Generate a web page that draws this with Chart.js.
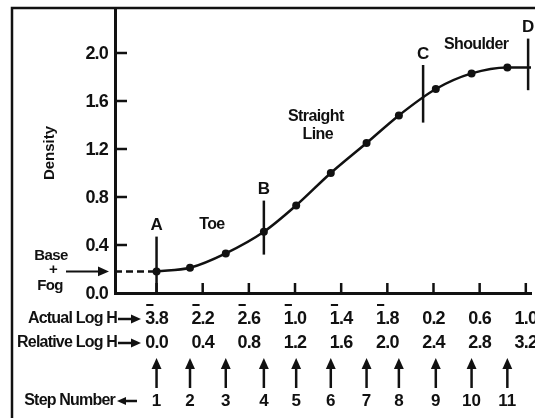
<!DOCTYPE html>
<html>
<head>
<meta charset="utf-8">
<script src="https://cdn.jsdelivr.net/npm/chart.js@4.4.0/dist/chart.umd.min.js"></script>
<style>
  html, body { margin: 0; padding: 0; background: #fff; }
  #wrap { width: 535px; height: 418px; }
</style>
</head>
<body>
<div id="wrap"><canvas id="hdcurve"></canvas></div>
<script>
// step wedge readings off the film
const stepNumbers = [1, 2, 3, 4, 5, 6, 7, 8, 9, 10, 11];
const stepLogH = [0.0, 0.29, 0.6, 0.93, 1.21, 1.51, 1.82, 2.1, 2.42, 2.73, 3.04];
const stepDensity = [0.18, 0.21, 0.33, 0.51, 0.73, 1.0, 1.25, 1.48, 1.7, 1.83, 1.88];
const shoulderEnd = { x: 3.26, y: 1.88 }; // curve carries on past step 11
const baseFog = 0.18;

// axis ticks
const relLogTicks = [0.0, 0.4, 0.8, 1.2, 1.6, 2.0, 2.4, 2.8, 3.2];
const actualLogTicks = ["3.8", "2.2", "2.6", "1.0", "1.4", "1.8", "0.2", "0.6", "1.0"];
const actualBarred = [true, true, true, true, true, true, false, false, false];
const densityTicks = [0.0, 0.4, 0.8, 1.2, 1.6, 2.0];

// A-D region markers and region names
const regionMarks = [
  { label: "A", x: 0.0, from: 0.0, to: 0.47 },
  { label: "B", x: 0.93, from: 0.32, to: 0.77 },
  { label: "C", x: 2.31, from: 1.42, to: 1.9 },
  { label: "D", x: 3.22, from: 1.69, to: 2.12 },
];
const regionNames = [
  { text: ["Toe"], x: 0.48, y: 0.57 },
  { text: ["Straight", "Line"], x: 1.38, y: 1.47 },
  { text: ["Shoulder"], x: 2.77, y: 2.07 },
];

const xMin = -0.36, xMax = 3.245;
const ink = "#111";
const font = (px) => "bold " + px + "px 'Liberation Sans', Arial, sans-serif";

function arrow(ctx, x1, y1, x2, y2, head) {
  const ang = Math.atan2(y2 - y1, x2 - x1);
  ctx.beginPath();
  ctx.moveTo(x1, y1);
  ctx.lineTo(x2 - Math.cos(ang) * head * 0.8, y2 - Math.sin(ang) * head * 0.8);
  ctx.stroke();
  ctx.beginPath();
  ctx.moveTo(x2, y2);
  ctx.lineTo(x2 - Math.cos(ang) * head - Math.sin(ang) * head * 0.45, y2 - Math.sin(ang) * head + Math.cos(ang) * head * 0.45);
  ctx.lineTo(x2 - Math.cos(ang) * head + Math.sin(ang) * head * 0.45, y2 - Math.sin(ang) * head - Math.cos(ang) * head * 0.45);
  ctx.closePath();
  ctx.fill();
}

const overlay = {
  id: "overlay",
  beforeDraw(chart) {
    const ctx = chart.ctx;
    ctx.save();
    ctx.fillStyle = "#fff";
    ctx.fillRect(0, 0, chart.width, chart.height);
    ctx.restore();
  },
  afterDraw(chart) {
    const { ctx, chartArea: a, scales: { x, y } } = chart;
    ctx.save();
    ctx.strokeStyle = ink;
    ctx.fillStyle = ink;
    ctx.lineCap = "butt";

    // outer frame (left + top)
    ctx.lineWidth = 2.5;
    ctx.beginPath();
    ctx.moveTo(12, chart.height);
    ctx.lineTo(12, a.top);
    ctx.lineTo(chart.width, a.top);
    ctx.stroke();

    // inward ticks
    ctx.lineWidth = 2.5;
    densityTicks.forEach((v) => {
      if (v === 0) return;
      const py = y.getPixelForValue(v);
      ctx.beginPath();
      ctx.moveTo(a.left, py);
      ctx.lineTo(a.left + 12, py);
      ctx.stroke();
    });
    relLogTicks.forEach((v) => {
      const px = x.getPixelForValue(v);
      ctx.beginPath();
      ctx.moveTo(px, a.bottom);
      ctx.lineTo(px, a.bottom - 10);
      ctx.stroke();
    });

    // y tick labels
    ctx.font = font(18);
    ctx.letterSpacing = "-0.8px";
    ctx.textAlign = "right";
    ctx.textBaseline = "middle";
    densityTicks.forEach((v) => {
      ctx.fillText(v.toFixed(1), a.left - 7, y.getPixelForValue(v) + 1);
    });

    // y title
    ctx.save();
    ctx.translate(50, 153);
    ctx.rotate(-Math.PI / 2);
    ctx.textAlign = "center";
    ctx.font = font(15);
    ctx.letterSpacing = "0px";
    ctx.fillText("Density", 0, 0);
    ctx.restore();

    // x label rows
    ctx.font = font(18);
    ctx.letterSpacing = "-0.8px";
    ctx.textAlign = "center";
    relLogTicks.forEach((v, i) => {
      const px = x.getPixelForValue(v);
      const lab = actualLogTicks[i];
      ctx.fillText(lab, px, 319);
      ctx.fillText(v.toFixed(1), px, 343);
      if (actualBarred[i]) {
        const w = ctx.measureText(lab).width;
        const w0 = ctx.measureText(lab[0]).width;
        const left = px - w / 2;
        ctx.lineWidth = 2;
        ctx.beginPath();
        ctx.moveTo(left + 1, 305);
        ctx.lineTo(left + w0 - 1, 305);
        ctx.stroke();
      }
    });

    // row names with arrows
    ctx.font = font(16);
    ctx.letterSpacing = "-0.8px";
    ctx.textAlign = "right";
    ctx.fillText("Actual Log H", 117, 319);
    ctx.fillText("Relative Log H", 117, 343);
    ctx.fillText("Step Number", 115, 401);
    ctx.lineWidth = 2.5;
    arrow(ctx, 118, 319, 141, 319, 10);
    arrow(ctx, 118, 343, 141, 343, 10);
    arrow(ctx, 137, 401, 117, 401, 9);

    // step arrows and numbers
    ctx.font = font(17);
    ctx.letterSpacing = "0px";
    ctx.textAlign = "center";
    stepLogH.forEach((v, i) => {
      const px = x.getPixelForValue(v);
      ctx.lineWidth = 2.5;
      arrow(ctx, px, 388, px, 358, 11);
      ctx.fillText(String(stepNumbers[i]), px, 401);
    });

    // base + fog
    const fy = y.getPixelForValue(baseFog);
    ctx.font = font(15);
    ctx.letterSpacing = "-0.6px";
    ctx.fillText("Base", 51, 256);
    ctx.fillText("+", 53, 270);
    ctx.fillText("Fog", 50, 286);
    ctx.lineWidth = 2;
    arrow(ctx, 66, fy, 109, fy, 11);

    // region markers
    ctx.font = font(17);
    ctx.letterSpacing = "0px";
    regionMarks.forEach((m) => {
      const px = x.getPixelForValue(m.x);
      const top = y.getPixelForValue(m.to);
      ctx.lineWidth = 2.5;
      ctx.beginPath();
      ctx.moveTo(px, y.getPixelForValue(m.from));
      ctx.lineTo(px, top);
      ctx.stroke();
      ctx.fillText(m.label, px, top - 11);
    });

    // region names
    ctx.font = font(16);
    ctx.letterSpacing = "-0.6px";
    regionNames.forEach((r) => {
      const px = x.getPixelForValue(r.x);
      const py = y.getPixelForValue(r.y);
      r.text.forEach((t, k) => ctx.fillText(t, px + k * 2, py + k * 18));
    });

    ctx.restore();
  },
};

const curvePoints = stepLogH.map((v, i) => ({ x: v, y: stepDensity[i] })).concat([shoulderEnd]);

new Chart(document.getElementById("hdcurve"), {
  type: "line",
  data: {
    datasets: [
      {
        label: "Characteristic curve",
        data: curvePoints,
        borderColor: ink,
        backgroundColor: ink,
        borderWidth: 2.5,
        cubicInterpolationMode: "monotone",
        pointRadius: curvePoints.map((p, i) => (i < stepLogH.length ? 4 : 0)),
        pointBorderWidth: 0,
      },
      {
        label: "Base + fog",
        data: [
          { x: xMin, y: baseFog },
          { x: stepLogH[0], y: baseFog },
        ],
        borderColor: ink,
        borderWidth: 2.5,
        borderDash: [7, 4],
        pointRadius: 0,
      },
    ],
  },
  options: {
    responsive: true,
    maintainAspectRatio: false,
    animation: false,
    layout: { padding: { left: 12, top: 8, right: 0, bottom: 0 } },
    plugins: {
      legend: { display: false },
      tooltip: { enabled: false },
    },
    scales: {
      x: {
        type: "linear",
        min: xMin,
        max: xMax,
        grid: { display: false },
        ticks: { display: false },
        border: { color: ink, width: 3 },
        afterFit: (s) => { s.height = 125; },
      },
      y: {
        min: 0,
        max: 2.375,
        grid: { display: false },
        ticks: { display: false },
        border: { color: ink, width: 3 },
        afterFit: (s) => { s.width = 103; },
      },
    },
  },
  plugins: [overlay],
});
</script>
</body>
</html>
